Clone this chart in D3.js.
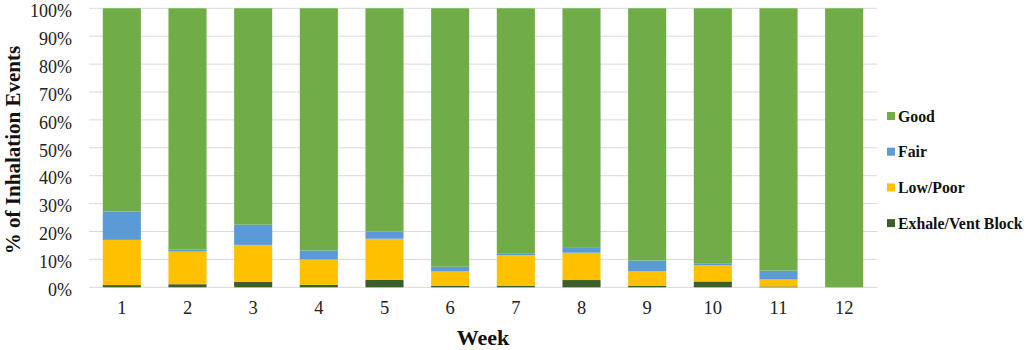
<!DOCTYPE html>
<html><head><meta charset="utf-8">
<script src="https://cdn.jsdelivr.net/npm/d3@7"></script>
<style>body{margin:0;background:#fff}svg{display:block}svg text{font-family:"Liberation Serif","Times New Roman",serif !important}</style>
</head><body>
<svg id="c" width="1026" height="350"></svg>
<script>
const weeks = ["1","2","3","4","5","6","7","8","9","10","11","12"];
const exhale = [0.8, 1.1, 2.0, 0.9, 2.7, 0.5, 0.5, 2.6, 0.6, 2.1, 0.3, 0];
const lowPoor = [16.2, 11.7, 13.2, 9.1, 14.7, 5.2, 11.0, 9.8, 5.1, 5.8, 2.5, 0];
const fair = [10.2, 0.8, 7.3, 3.2, 2.6, 1.7, 0.5, 2.0, 3.9, 0.7, 3.2, 0];
const good = [72.8, 86.4, 77.5, 86.8, 80.0, 92.6, 88.0, 85.6, 90.4, 91.4, 94.0, 100];
const yTicks = [0,10,20,30,40,50,60,70,80,90,100];
const seriesNames = ["Exhale/Vent Block","Low/Poor","Fair","Good"];
const colors = {"Exhale/Vent Block":"#3B5E2B","Low/Poor":"#FFC000","Fair":"#5B9BD5","Good":"#70AD47"};

const svg = d3.select("#c");
const m = {l:89, r:877, t:8.3, b:287.3};
const font = "Liberation Serif";

const rows = weeks.map((w,i)=>({week:w,"Exhale/Vent Block":exhale[i],"Low/Poor":lowPoor[i],"Fair":fair[i],"Good":good[i]}));
const stack = d3.stack().keys(seriesNames)(rows);

const x = d3.scaleBand().domain(weeks).range([m.l,m.r]).paddingInner(0.42).paddingOuter(0.21);
const y = d3.scaleLinear().domain([0,100]).range([m.b,m.t]);

// gridlines
svg.append("g").selectAll("line").data(yTicks).join("line")
  .attr("x1",m.l).attr("x2",m.r).attr("y1",d=>y(d)).attr("y2",d=>y(d))
  .attr("stroke","#d9d9d9").attr("stroke-width",1);

// bars
svg.append("g").selectAll("g").data(stack).join("g")
  .attr("fill",d=>colors[d.key])
  .selectAll("rect").data(d=>d).join("rect")
  .attr("x",d=>x(d.data.week)).attr("width",x.bandwidth())
  .attr("y",d=>y(d[1])).attr("height",d=>Math.max(0,y(d[0])-y(d[1])));

// y axis labels
const yAxis = d3.axisLeft(y).tickValues(yTicks).tickFormat(d=>d+"%").tickSize(0).tickPadding(17);
const ya = svg.append("g").attr("transform",`translate(${m.l},2.5)`).call(yAxis);
ya.attr("font-family",font);
ya.select(".domain").remove();
ya.selectAll("text").attr("font-size",18).attr("fill","#222");

// x axis labels
const xAxis = d3.axisBottom(x).tickSize(0).tickPadding(14);
const xa = svg.append("g").attr("transform",`translate(0,${m.b})`).call(xAxis);
xa.attr("font-family",font);
xa.select(".domain").remove();
xa.selectAll("text").attr("font-size",18.5).attr("fill","#222");

// axis titles
svg.append("text").attr("x",(m.l+m.r)/2 - 0).attr("y",345).attr("text-anchor","middle")
  .attr("font-family",font).attr("font-weight","bold").attr("font-size",22).attr("fill","#111").text("Week");
svg.append("text").attr("transform","translate(20,150) rotate(-90)").attr("text-anchor","middle")
  .attr("font-family",font).attr("font-weight","bold").attr("font-size",21).attr("fill","#111").text("% of Inhalation Events");

// legend
const legendOrder = ["Good","Fair","Low/Poor","Exhale/Vent Block"];
const lg = svg.append("g").selectAll("g").data(legendOrder).join("g")
  .attr("transform",(d,i)=>`translate(887,${116+i*35.7})`);
lg.append("rect").attr("x",0).attr("y",-4).attr("width",8).attr("height",8).attr("fill",d=>colors[d]);
lg.append("text").attr("x",11).attr("y",5.5).attr("font-family",font).attr("font-weight","bold")
  .attr("font-size",15.8).attr("fill","#111").text(d=>d);
</script>
</body></html>
